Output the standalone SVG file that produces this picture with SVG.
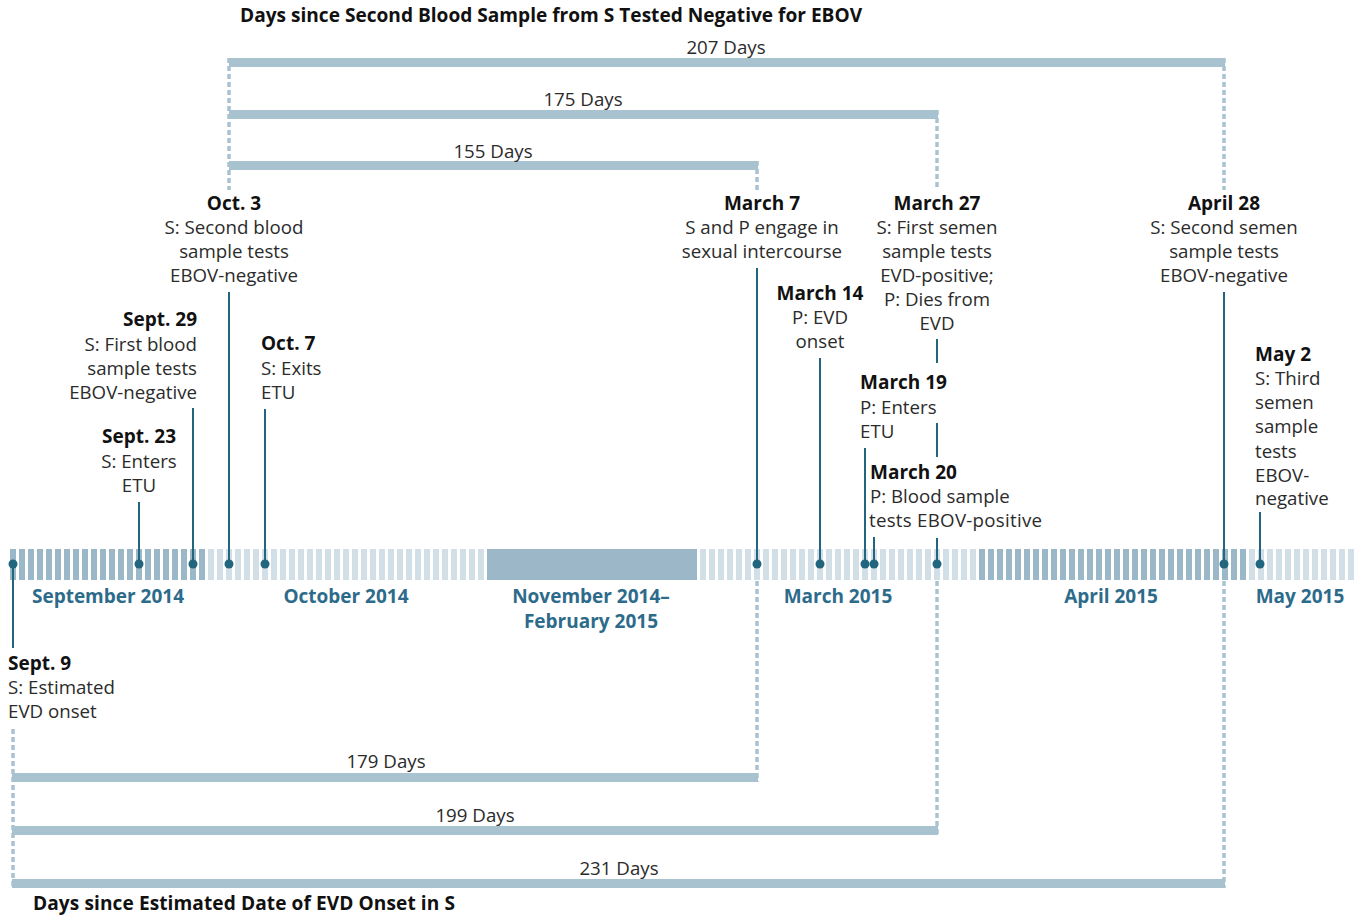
<svg xmlns="http://www.w3.org/2000/svg" width="1362" height="921" viewBox="0 0 1362 921">
<defs>
<style>
text{font-family:"Open Sans","Noto Sans","Liberation Sans",sans-serif;font-size:18.7px;fill:#2b2b2b}
.d{font-weight:bold;font-size:19px;fill:#111}
.t{font-weight:bold;font-size:19.1px;fill:#111}
.m{font-weight:bold;font-size:19px;fill:#2d6b8b}
.c{text-anchor:middle}
.r{text-anchor:end}
.stem{stroke:#21657f;stroke-width:2;fill:none}
.dash{stroke:#a8c3cf;stroke-width:3.5;stroke-dasharray:5 3;fill:none}
.bar{fill:#a8c3cf}
.dot{fill:#21657f}
</style>
<pattern id="pd1" patternUnits="userSpaceOnUse" x="10" y="0" width="9" height="921"><rect x="0" y="0" width="6" height="921" fill="#9bb8c8"/></pattern>
<pattern id="pl1" patternUnits="userSpaceOnUse" x="10" y="0" width="9" height="921"><rect x="0" y="0" width="6" height="921" fill="#d3dfe6"/></pattern>
<pattern id="pd2" patternUnits="userSpaceOnUse" x="7" y="0" width="9" height="921"><rect x="0" y="0" width="6" height="921" fill="#9bb8c8"/></pattern>
<pattern id="pl2" patternUnits="userSpaceOnUse" x="7" y="0" width="9" height="921"><rect x="0" y="0" width="6" height="921" fill="#d3dfe6"/></pattern>
</defs>
<rect width="1362" height="921" fill="#ffffff"/>

<g id="titles">
<text class="t" x="240" y="22">Days since Second Blood Sample from S Tested Negative for EBOV</text>
<text class="t" x="33" y="910" textLength="422">Days since Estimated Date of EVD Onset in S</text>
</g>

<g id="timeline">
<rect x="10" y="549" width="198" height="31" fill="url(#pd1)"/>
<rect x="208" y="549" width="279" height="31" fill="url(#pl1)"/>
<rect x="487" y="549" width="210" height="31" fill="#9cb8c8"/>
<rect x="700" y="549" width="279" height="31" fill="url(#pl2)"/>
<rect x="979" y="549" width="270" height="31" fill="url(#pd2)"/>
<rect x="1249" y="549" width="105" height="31" fill="url(#pl2)"/>
<text class="m c" x="108" y="603">September 2014</text>
<text class="m c" x="346" y="603">October 2014</text>
<text class="m c" x="591" y="603">November 2014–</text>
<text class="m c" x="591" y="628">February 2015</text>
<text class="m c" x="838" y="603">March 2015</text>
<text class="m c" x="1111" y="603">April 2015</text>
<text class="m c" x="1300" y="603">May 2015</text>
</g>

<g id="spans">
<rect class="bar" x="229" y="58" width="996" height="9"/>
<text class="c" x="726" y="54">207 Days</text>
<rect class="bar" x="229" y="110" width="709" height="9"/>
<text class="c" x="583" y="106">175 Days</text>
<rect class="bar" x="229" y="161" width="529" height="9"/>
<text class="c" x="493" y="158">155 Days</text>
<rect class="bar" x="12" y="773" width="746" height="9"/>
<text class="c" x="386" y="768">179 Days</text>
<rect class="bar" x="12" y="826" width="926" height="9"/>
<text class="c" x="475" y="822">199 Days</text>
<rect class="bar" x="12" y="879" width="1213" height="9"/>
<text class="c" x="619" y="875">231 Days</text>
</g>

<g id="connectors">
<line class="dash" x1="229" y1="58" x2="229" y2="190"/>
<line class="dash" x1="757" y1="161" x2="757" y2="190"/>
<line class="dash" x1="937" y1="110" x2="937" y2="190"/>
<line class="dash" x1="1224" y1="58" x2="1224" y2="190"/>
<line class="dash" x1="13" y1="729" x2="13" y2="888"/>
<line class="dash" x1="757" y1="581" x2="757" y2="782"/>
<line class="dash" x1="937" y1="581" x2="937" y2="835"/>
<line class="dash" x1="1224" y1="581" x2="1224" y2="888"/>
<line class="stem" x1="13" y1="564" x2="13" y2="648"/>
<line class="stem" x1="139" y1="502" x2="139" y2="564"/>
<line class="stem" x1="193" y1="408" x2="193" y2="564"/>
<line class="stem" x1="229" y1="292" x2="229" y2="564"/>
<line class="stem" x1="265" y1="409" x2="265" y2="564"/>
<line class="stem" x1="757" y1="268" x2="757" y2="564"/>
<line class="stem" x1="820" y1="358" x2="820" y2="564"/>
<line class="stem" x1="865" y1="448" x2="865" y2="564"/>
<line class="stem" x1="874" y1="537" x2="874" y2="564"/>
<line class="stem" x1="937" y1="339" x2="937" y2="363"/>
<line class="stem" x1="937" y1="423" x2="937" y2="457"/>
<line class="stem" x1="937" y1="538" x2="937" y2="564"/>
<line class="stem" x1="1224" y1="292" x2="1224" y2="564"/>
<line class="stem" x1="1260" y1="512" x2="1260" y2="564"/>
</g>

<g id="sep9"><circle class="dot" cx="13" cy="564" r="4.5"/>
<text class="d" x="8" y="670">Sept. 9</text>
<text x="8" y="694">S: Estimated</text>
<text x="8" y="718">EVD onset</text></g>

<g id="sep23"><circle class="dot" cx="139" cy="564" r="4.5"/>
<text class="d c" x="139" y="443">Sept. 23</text>
<text class="c" x="139" y="468">S: Enters</text>
<text class="c" x="139" y="492">ETU</text></g>

<g id="sep29"><circle class="dot" cx="193" cy="564" r="4.5"/>
<text class="d r" x="197" y="326">Sept. 29</text>
<text class="r" x="197" y="351">S: First blood</text>
<text class="r" x="197" y="375">sample tests</text>
<text class="r" x="197" y="399">EBOV-negative</text></g>

<g id="oct3"><circle class="dot" cx="229" cy="564" r="4.5"/>
<text class="d c" x="234" y="210">Oct. 3</text>
<text class="c" x="234" y="234">S: Second blood</text>
<text class="c" x="234" y="258">sample tests</text>
<text class="c" x="234" y="282">EBOV-negative</text></g>

<g id="oct7"><circle class="dot" cx="265" cy="564" r="4.5"/>
<text class="d" x="261" y="350">Oct. 7</text>
<text x="261" y="375">S: Exits</text>
<text x="261" y="399">ETU</text></g>

<g id="mar7"><circle class="dot" cx="757" cy="564" r="4.5"/>
<text class="d c" x="762" y="210">March 7</text>
<text class="c" x="762" y="234">S and P engage in</text>
<text class="c" x="762" y="258">sexual intercourse</text></g>

<g id="mar14"><circle class="dot" cx="820" cy="564" r="4.5"/>
<text class="d c" x="820" y="300">March 14</text>
<text class="c" x="820" y="324">P: EVD</text>
<text class="c" x="820" y="348">onset</text></g>

<g id="mar19"><circle class="dot" cx="865" cy="564" r="4.5"/>
<text class="d" x="860" y="389">March 19</text>
<text x="860" y="414">P: Enters</text>
<text x="860" y="438">ETU</text></g>

<g id="mar20"><circle class="dot" cx="874" cy="564" r="4.5"/>
<text class="d" x="870" y="479">March 20</text>
<text x="870" y="503">P: Blood sample</text>
<text x="869" y="527" textLength="173">tests EBOV-positive</text></g>

<g id="mar27"><circle class="dot" cx="937" cy="564" r="4.5"/>
<text class="d c" x="937" y="210">March 27</text>
<text class="c" x="937" y="234">S: First semen</text>
<text class="c" x="937" y="258">sample tests</text>
<text class="c" x="937" y="282">EVD-positive;</text>
<text class="c" x="937" y="306">P: Dies from</text>
<text class="c" x="937" y="330">EVD</text></g>

<g id="apr28"><circle class="dot" cx="1224" cy="564" r="4.5"/>
<text class="d c" x="1224" y="210">April 28</text>
<text class="c" x="1224" y="234">S: Second semen</text>
<text class="c" x="1224" y="258">sample tests</text>
<text class="c" x="1224" y="282">EBOV-negative</text></g>

<g id="may2"><circle class="dot" cx="1260" cy="564" r="4.5"/>
<text class="d" x="1255" y="361">May 2</text>
<text x="1255" y="385">S: Third</text>
<text x="1255" y="409">semen</text>
<text x="1255" y="433">sample</text>
<text x="1255" y="458">tests</text>
<text x="1255" y="482">EBOV-</text>
<text x="1255" y="505">negative</text></g>
</svg>
